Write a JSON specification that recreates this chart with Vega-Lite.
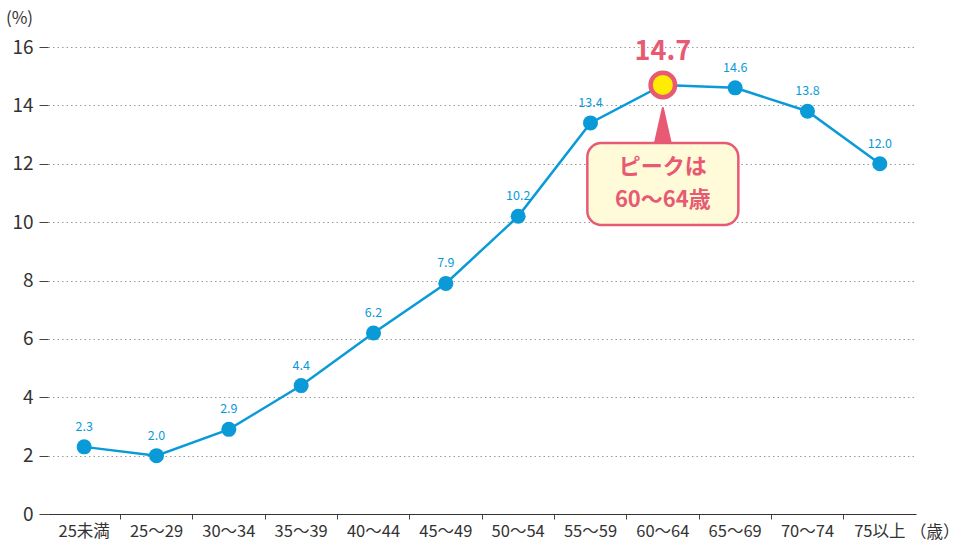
{
  "$schema": "https://vega.github.io/schema/vega-lite/v6.json",
  "width": 868,
  "height": 467,
  "autosize": {"type": "none"},
  "padding": {"left": 48, "top": 47, "right": 51, "bottom": 30},
  "background": "white",
  "config": {
    "view": {"stroke": null},
    "font": "Noto Sans CJK JP",
    "axis": {"labelFont": "Noto Sans CJK JP", "titleFont": "Noto Sans CJK JP"}
  },
  "data": {
    "values": [
      {"age": "25未満", "rate": 2.3},
      {"age": "25～29", "rate": 2.0},
      {"age": "30～34", "rate": 2.9},
      {"age": "35～39", "rate": 4.4},
      {"age": "40～44", "rate": 6.2},
      {"age": "45～49", "rate": 7.9},
      {"age": "50～54", "rate": 10.2},
      {"age": "55～59", "rate": 13.4},
      {"age": "60～64", "rate": 14.7},
      {"age": "65～69", "rate": 14.6},
      {"age": "70～74", "rate": 13.8},
      {"age": "75以上", "rate": 12.0}
    ]
  },
  "encoding": {
    "x": {
      "field": "age",
      "type": "nominal",
      "sort": null,
      "scale": {"type": "band", "paddingInner": 0, "paddingOuter": 0},
      "axis": {
        "title": null,
        "labelAngle": 0,
        "labelFontSize": 16.5,
        "labelColor": "#333333",
        "labelPadding": 4,
        "bandPosition": 0,
        "tickSize": 5,
        "tickColor": {"condition": {"test": "datum.value == '25未満'", "value": "transparent"}, "value": "#444444"},
        "domainColor": "#333333",
        "domainWidth": 1.2,
        "grid": false,
        "zindex": 1
      }
    },
    "y": {
      "field": "rate",
      "type": "quantitative",
      "scale": {"domain": [0, 16], "nice": false},
      "axis": {
        "values": [0, 2, 4, 6, 8, 10, 12, 14, 16],
        "title": "(%)",
        "titleAngle": 0,
        "titleAlign": "center",
        "titleBaseline": "middle",
        "titleX": -29,
        "titleY": -29,
        "titleFontSize": 17,
        "titleFontWeight": "normal",
        "titleColor": "#333333",
        "labelFontSize": 19,
        "labelColor": "#333333",
        "labelPadding": 6,
        "tickSize": 9,
        "tickColor": "#444444",
        "domain": false,
        "grid": true,
        "gridColor": "#9a9a9a",
        "gridDash": [1.5, 3],
        "gridWidth": 1
      }
    }
  },
  "layer": [
    {
      "mark": {"type": "line", "color": "#0a9ad8", "strokeWidth": 2.5}
    },
    {
      "transform": [{"filter": "datum.age != '60～64'"}],
      "mark": {"type": "circle", "color": "#0a9ad8", "size": 225, "opacity": 1}
    },
    {
      "transform": [{"filter": "datum.age != '60～64'"}],
      "mark": {"type": "text", "color": "#0a9ad8", "fontSize": 12.5, "dy": -20, "baseline": "middle"},
      "encoding": {"text": {"field": "rate", "type": "quantitative", "format": ".1f"}}
    },
    {
      "transform": [{"filter": "datum.age == '60～64'"}],
      "mark": {"type": "point", "shape": "circle", "filled": true, "fill": "#ffec00", "stroke": "#e85a73", "strokeWidth": 4.5, "size": 600, "opacity": 1}
    },
    {
      "transform": [{"filter": "datum.age == '60～64'"}],
      "mark": {"type": "text", "color": "#e85a73", "fontSize": 27, "fontWeight": "bold", "dy": -33, "baseline": "middle"},
      "encoding": {"text": {"field": "rate", "type": "quantitative", "format": ".1f"}}
    },
    {
      "transform": [{"filter": "datum.age == '60～64'"}],
      "mark": {"type": "point", "shape": "M0,-1L0.45,1L-0.45,1Z", "filled": true, "fill": "#e85a73", "stroke": "#e85a73", "strokeWidth": 2, "strokeJoin": "round", "size": 1444, "opacity": 1},
      "encoding": {
        "y": {"datum": 13.26, "type": "quantitative"}
      }
    },
    {
      "transform": [{"filter": "datum.age == '60～64'"}],
      "mark": {"type": "bar", "width": 151, "cornerRadius": 14, "fill": "#fffbd8", "stroke": "#e85a73", "strokeWidth": 2.5},
      "encoding": {
        "y": {"datum": 12.71, "type": "quantitative"},
        "y2": {"datum": 9.9}
      }
    },
    {
      "transform": [{"filter": "datum.age == '60～64'"}],
      "mark": {"type": "text", "text": ["ピークは", "60～64歳"], "lineHeight": 33, "fontSize": 22, "fontWeight": "bold", "color": "#e85a73", "baseline": "middle", "align": "center"},
      "encoding": {
        "y": {"datum": 11.89, "type": "quantitative"}
      }
    },
    {
      "transform": [{"filter": "datum.age == '75以上'"}],
      "mark": {"type": "text", "text": "（歳）", "fontSize": 16.5, "color": "#333333", "dx": 55, "dy": 19, "baseline": "middle", "align": "center"},
      "encoding": {
        "y": {"datum": 0, "type": "quantitative"}
      }
    }
  ]
}
